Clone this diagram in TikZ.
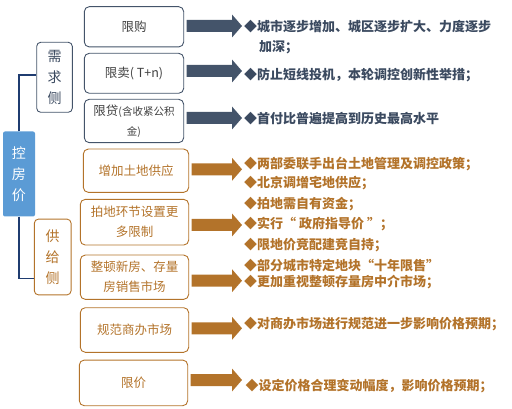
\documentclass[tikz,border=0pt]{standalone}
\usepackage{fontspec}
\newfontfamily\cjk{Noto Sans CJK SC}
\usetikzlibrary{calc}
\definecolor{slate}{HTML}{44546A}
\definecolor{slatetext}{HTML}{3B4A60}
\definecolor{boxgray}{HTML}{404040}
\definecolor{ochre}{HTML}{B3732A}
\definecolor{navy}{HTML}{1F3C70}
\definecolor{kblue}{HTML}{5B9BD5}
\newcommand{\blockarr}[3]{%
  \coordinate (ay) at (0,#2);
  \fill[#3] ($(#1.east |- ay)+(2.5,-6)$) -- (232,{#2-6}) -- (232,{#2-11.5}) -- (242,#2)
    -- (232,{#2+11.5}) -- (232,{#2+6}) -- ($(#1.east |- ay)+(2.5,6)$) -- cycle;}
\begin{document}
\begin{tikzpicture}[x=1pt,y=-1pt,
  dbox/.style={draw=slate, line width=0.9pt, rounded corners=5pt, align=center,
    text=boxgray, font=\cjk\fontsize{12.5}{20}\selectfont, inner sep=0pt},
  sbox/.style={dbox, draw=ochre, text=ochre},
  side/.style={dbox, rounded corners=4pt, font=\cjk\fontsize{14}{21}\selectfont, text=slatetext},
  dtxt/.style={anchor=base west, inner sep=0pt, align=left, text=slatetext,
    font=\cjk\bfseries\fontsize{13}{20}\selectfont},
  stxt/.style={dtxt, text=ochre},
  link/.style={draw=navy, line width=1.4pt}
]
\useasboundingbox (0,0) rectangle (512,409);

% root
\node[fill=kblue, rounded corners=2pt, minimum width=32pt, minimum height=85pt, inner sep=0pt,
  align=center, text=white, font=\cjk\fontsize{14}{21}\selectfont] (kfj) at (19,174) {控\\房\\价};

% sides
\node[side, minimum width=35.6pt, minimum height=70pt] (xq) at (54.5,77.3) {需\\求\\侧};
\node[side, draw=ochre, text=ochre, minimum width=36.7pt, minimum height=75.7pt] (gj) at (52.7,257) {供\\给\\侧};

\draw[link] (kfj.north) |- ($(xq.south west)!0.53!(xq.north west)$);
\draw[link] (kfj.south) |- ($(gj.south west)!0.22!(gj.north west)$);

% demand boxes
\node[dbox, minimum width=99.4pt, minimum height=40.3pt] (xg) at (134,26.8) {限购};
\node[dbox, minimum width=99.4pt, minimum height=40pt] (xm) at (134,73.3) {限卖( T+n)};
\node[dbox, minimum width=99.4pt, minimum height=43.4pt] (xd) at (134,121)
  {限贷{\fontsize{10.5}{20}\selectfont(含收紧公积}\\{\fontsize{10.5}{20}\selectfont 金)}};

% supply boxes
\node[sbox, minimum width=105.4pt, minimum height=43.3pt] (zj) at (136,170.7) {增加土地供应};
\node[sbox, minimum width=108.4pt, minimum height=45.7pt] (pd) at (134.5,222.2) {拍地环节设置更\\多限制};
\node[sbox, minimum width=108.4pt, minimum height=44.3pt] (zd) at (134.5,277.2) {整顿新房、存量\\房销售市场};
\node[sbox, minimum width=108.4pt, minimum height=44.6pt] (gf) at (134.5,330) {规范商办市场};
\node[sbox, minimum width=108.4pt, minimum height=45.7pt] (xj) at (133.5,382.9) {限价};

% arrows
\blockarr{xg}{26}{slate}
\blockarr{xm}{71}{slate}
\blockarr{xd}{118}{slate}
\blockarr{zj}{169.3}{ochre}
\blockarr{pd}{225}{ochre}
\blockarr{zd}{280.7}{ochre}
\blockarr{gf}{328.3}{ochre}
\blockarr{xj}{380}{ochre}

% demand texts
\node[dtxt] (t1) at (244,51.7) {◆城市逐步增加、城区逐步扩大、力度逐步\\\hspace*{1.15em}加深；};
\node[dtxt] (t2) at (244,80) {◆防止短线投机，本轮调控创新性举措；};
\node[dtxt] (t3) at (244,123.3) {◆首付比普遍提高到历史最高水平};

% supply texts
\node[stxt] (s1) at (244,168.3) {◆两部委联手出台土地管理及调控政策；};
\node[stxt] (s2) at (244,187.7) {◆北京调增宅地供应；};
\node[stxt] (s3) at (244,208.3) {◆拍地需自有资金；};
\node[stxt] (s4) at (244,228.3) {◆实行“ 政府指导价 ”；};
\node[stxt] (s5) at (244,250) {◆限地价竞配建竞自持；};
\node[stxt] (s6) at (244,270.5) {◆部分城市特定地块“十年限售”};
\node[stxt] (s7) at (244,286.7) {◆更加重视整顿存量房中介市场；};
\node[stxt] (s8) at (244,328.3) {◆对商办市场进行规范进一步影响价格预期；};
\node[stxt] (s9) at (245.5,390) {◆设定价格合理变动幅度，影响价格预期；};
\end{tikzpicture}
\end{document}
